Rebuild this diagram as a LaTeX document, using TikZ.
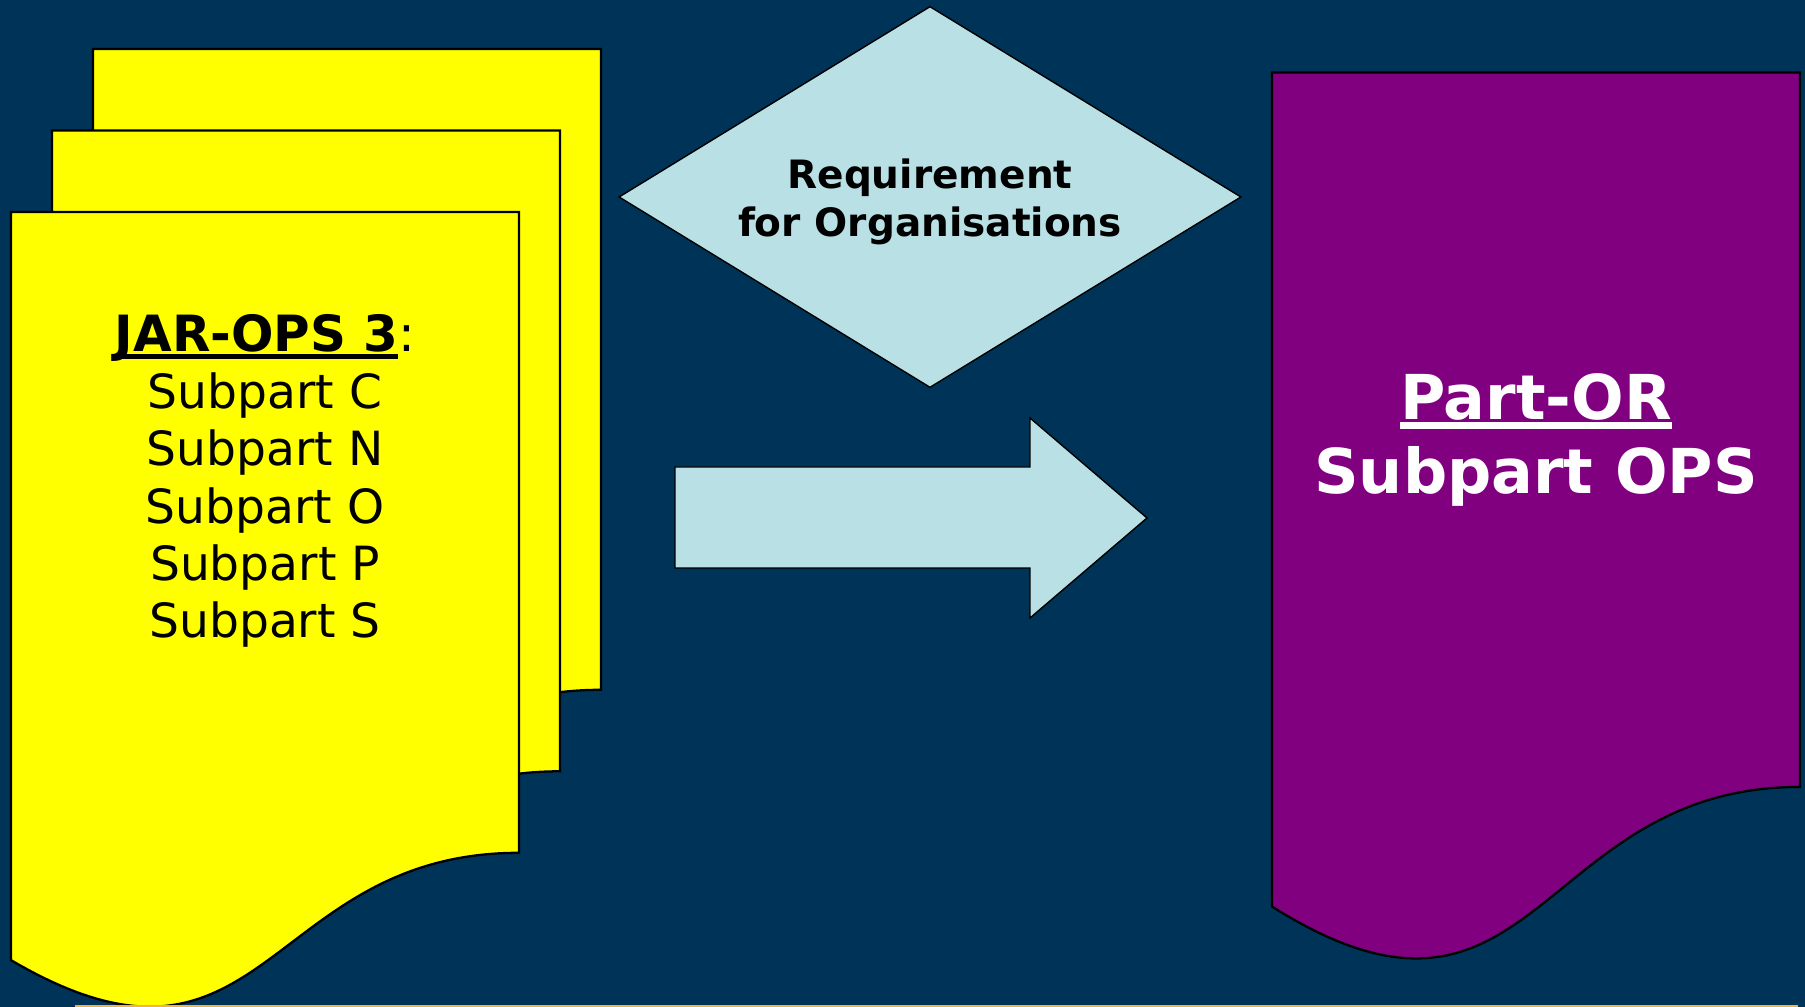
\documentclass[tikz,border=0pt]{standalone}
\usepackage{fontspec}
\setmainfont{DejaVu Sans}
\usepackage{tikz}
\usetikzlibrary{shapes}
\definecolor{slidebg}{RGB}{0,51,88}
\definecolor{pageyellow}{RGB}{255,255,0}
\definecolor{paleblue}{RGB}{185,224,228}
\definecolor{orpurple}{RGB}{128,0,128}
\definecolor{footline}{RGB}{240,180,70}
\def\pgwidth{508}
\def\pgheight{801}

% document outline: x, y, width, height
\newcommand\docpath[4]{({#1},{#2}) -- ({#1+#3},{#2}) -- ({#1+#3},{#2+0.80*#4})
  .. controls ({#1+0.5*#3},{#2+0.80*#4}) and ({#1+0.5*#3},{#2+1.12*#4}) .. ({#1},{#2+0.934*#4}) -- cycle}

% thick underline
\newcommand\ulfat[1]{\setbox0\hbox{#1}\rlap{\rule[-0.155em]{\wd0}{0.11em}}\box0}

\begin{document}
\begin{tikzpicture}[x=0.01cm, y=-0.01cm]

\useasboundingbox (0,0) rectangle (1805,1007);
\fill[slidebg] (0,0) rectangle (1805,1007);
\clip (0,0) rectangle (1805,1007);

% stack of yellow pages
\foreach \i in {2,1,0}
  \filldraw[fill=pageyellow, draw=black, line width=0.65pt]
    \docpath{11+41*\i}{212-81.5*\i}{\pgwidth}{\pgheight};

\node[font=\fontsize{13.4}{16.3}\selectfont, align=center] (jarops) at (265,481)
  {{\fontsize{14.2}{16.3}\selectfont{\bfseries\ulfat{JAR-OPS 3}}:}\\Subpart C\\Subpart N\\Subpart O\\Subpart P\\Subpart S};

% decision
\node[diamond, draw=black, fill=paleblue, line width=0.4pt, aspect=1.63, inner sep=0pt,
  minimum width=6.22cm, minimum height=3.81cm, text height=24.8pt,
  font=\fontsize{11.1}{13.7}\selectfont\bfseries, align=center] (reqorg) at (930,197)
  {Requirement\\for Organisations};

% block arrow
\filldraw[fill=paleblue, draw=black, line width=0.4pt]
  (675,467) -- (1030,467) -- (1030,418) -- (1147,518) -- (1030,618) -- (1030,568) -- (675,568) -- cycle;

% purple page
\filldraw[fill=orpurple, draw=black, line width=0.65pt] \docpath{1272}{72.5}{528}{893};
\node[text=white, font=\fontsize{17.6}{21.3}\selectfont\bfseries, align=center] (partor) at (1536,440)
  {\ulfat{Part-OR}\\Subpart OPS};

% footer line
\draw[footline, line width=0.6pt] (75,1006) -- (1798,1006);
\end{tikzpicture}
\end{document}
